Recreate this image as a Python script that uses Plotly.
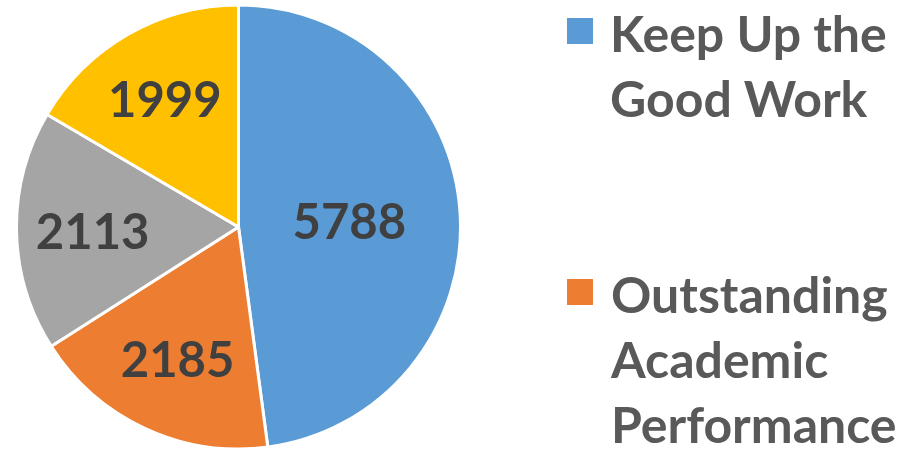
import plotly.graph_objects as go

categories = ["Keep Up the Good Work", "Outstanding Academic Performance", "Category 3", "Category 4"]
values = [5788, 2185, 2113, 1999]
colors = ["#5B9BD5", "#ED7D31", "#A5A5A5", "#FFC000"]
legend_labels = ["Keep Up the<br>Good Work", "Outstanding<br>Academic<br>Performance"]

W, H = 922, 449
FONT = "Lato"

fig = go.Figure()
fig.add_trace(go.Pie(
    labels=categories,
    values=values,
    sort=False,
    direction="clockwise",
    rotation=0,
    marker=dict(colors=colors, line=dict(color="white", width=3)),
    textinfo="value",
    textposition="inside",
    insidetextorientation="horizontal",
    textfont=dict(family=FONT, size=49, color="#404040", weight="bold"),
    domain=dict(x=[16 / W, 461 / W], y=[0, 444 / H]),
    showlegend=False,
    hoverinfo="label+value",
))

# manual legend (only the visible part of the original legend)
legend_tops = [18, 279]
for i, lab in enumerate(legend_labels):
    top = legend_tops[i]
    fig.add_shape(type="rect", xref="paper", yref="paper",
                  x0=567 / W, x1=593 / W, y0=1 - top / H, y1=1 - (top + 26) / H,
                  fillcolor=colors[i], line=dict(width=0))
    fig.add_annotation(xref="paper", yref="paper", x=608 / W, y=1 - (top - 17) / H,
                       xanchor="left", yanchor="top", align="left", showarrow=False,
                       text=lab, font=dict(family=FONT, size=50, color="#595959", weight="bold"))

fig.update_layout(
    width=W, height=H,
    margin=dict(l=0, r=0, t=0, b=0),
    paper_bgcolor="white", plot_bgcolor="white",
)
fig.write_html("out.html", config={"displayModeBar": False},
               post_script="document.body.style.margin='0';document.body.style.overflow='hidden';")
